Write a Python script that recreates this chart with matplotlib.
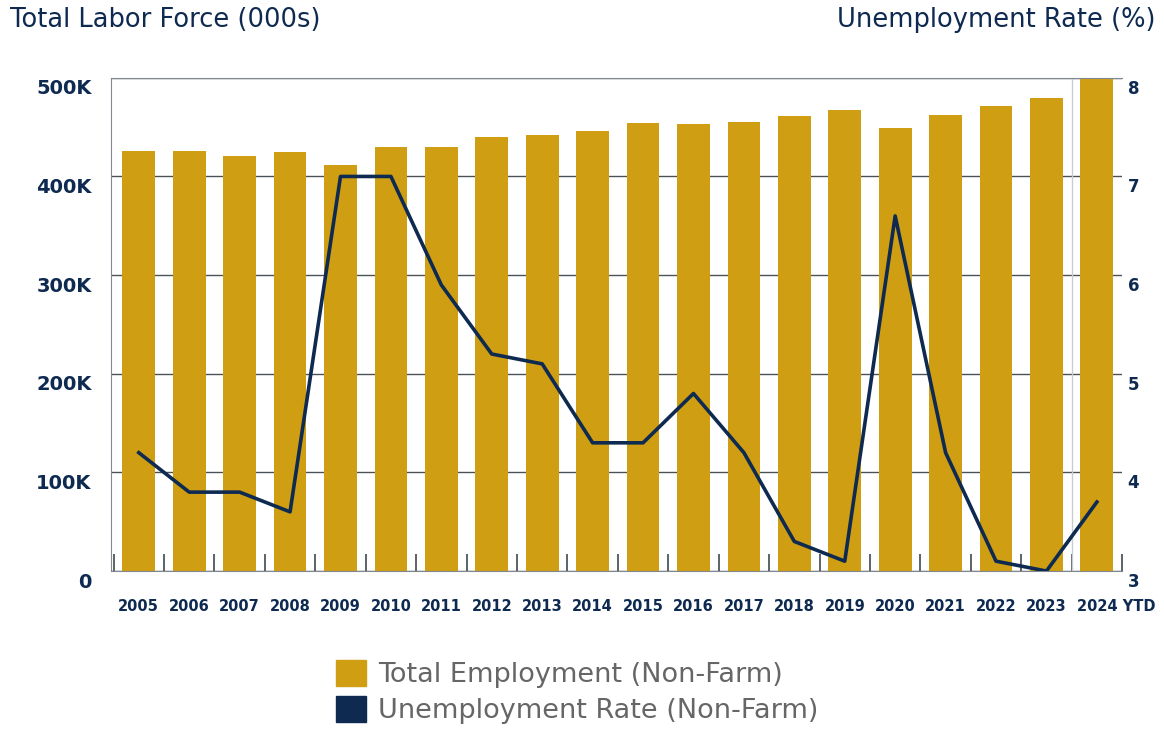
import numpy as np
import matplotlib.pyplot as plt
import matplotlib.transforms as mtransforms
from matplotlib.patches import Patch

years = ["2005", "2006", "2007", "2008", "2009", "2010", "2011", "2012", "2013", "2014",
         "2015", "2016", "2017", "2018", "2019", "2020", "2021", "2022", "2023", "2024 YTD"]
employment = [426, 426, 421, 425, 412, 430, 430, 440, 442, 446,
              454, 453, 455, 461, 467, 449, 462, 471, 480, 500]
unemp_rate = [4.2, 3.8, 3.8, 3.6, 7.0, 7.0, 5.9, 5.2, 5.1, 4.3,
              4.3, 4.8, 4.2, 3.3, 3.1, 6.6, 4.2, 3.1, 3.0, 3.7]

NAVY = "#0E2A50"
GOLD = "#CF9E13"
plt.rcParams["font.family"] = ["DejaVu Sans"]

fig = plt.figure(figsize=(11.64, 7.34), dpi=100)
ax = fig.add_axes([0.0954, 0.222, 0.8686, 0.672])
x = np.arange(len(years))

# bars (left axis)
ax.set_axisbelow(True)
ax.yaxis.grid(True, color="#4a5258", linewidth=1)
ax.bar(x, employment, width=0.65, color=GOLD, zorder=2)
ax.axvline(18.5, color="#c8ccd0", linewidth=1, zorder=1)
ax.set_ylim(0, 500)
ax.set_xlim(-0.55, 19.5)
ax.set_yticks([0, 100, 200, 300, 400, 500])
ax.set_yticklabels(["0", "100K", "200K", "300K", "400K", "500K"])
ax.set_xticks(x)
ax.set_xticklabels(years)
ax.set_xticks(np.arange(-0.5, 20, 1), minor=True)
ax.tick_params(axis="x", which="major", length=0, pad=20, labelsize=10.5, labelcolor=NAVY)
ax.tick_params(axis="x", which="minor", length=12, width=1.3, direction="in", color="#4f575d")
ax.tick_params(axis="y", length=0, pad=14, labelsize=14, labelcolor=NAVY)
for lab in ax.get_xticklabels() + ax.get_yticklabels():
    lab.set_fontweight("bold")
off = mtransforms.ScaledTranslation(0, -9 / 100, fig.dpi_scale_trans)
for lab in ax.get_yticklabels():
    lab.set_transform(lab.get_transform() + off)
# last label sits a little to the right in the original
last = ax.get_xticklabels()[-1]
last.set_transform(last.get_transform() + mtransforms.ScaledTranslation(19 / 100, 0, fig.dpi_scale_trans))
for s in ["left", "bottom", "top"]:
    ax.spines[s].set_color("#808890")
ax.spines["right"].set_visible(False)

# line (right axis)
ax2 = ax.twinx()
ax2.plot(x, unemp_rate, color=NAVY, linewidth=2.6, zorder=3)
ax2.set_ylim(3, 8)
ax2.set_yticks([3, 4, 5, 6, 7, 8])
ax2.tick_params(axis="y", length=0, pad=4, labelsize=12, labelcolor=NAVY)
for lab in ax2.get_yticklabels():
    lab.set_fontweight("bold")
    lab.set_transform(lab.get_transform() + off)
for s in ax2.spines.values():
    s.set_visible(False)

fig.text(0.009, 0.973, "Total Labor Force (000s)", fontsize=18.5, color=NAVY, va="center")
fig.text(0.993, 0.973, "Unemployment Rate (%)", fontsize=18.5, color=NAVY, va="center", ha="right")

handles = [Patch(color=GOLD, label="Total Employment (Non-Farm)"),
           Patch(color=NAVY, label="Unemployment Rate (Non-Farm)")]
fig.legend(handles=handles, loc="upper left", bbox_to_anchor=(0.289, 0.101), frameon=False,
           fontsize=19.5, labelcolor="#666666", handlelength=1.1, handleheight=1.1,
           handletextpad=0.45, labelspacing=0.3, borderpad=0, borderaxespad=0)

fig.savefig("out.png", dpi=100)
